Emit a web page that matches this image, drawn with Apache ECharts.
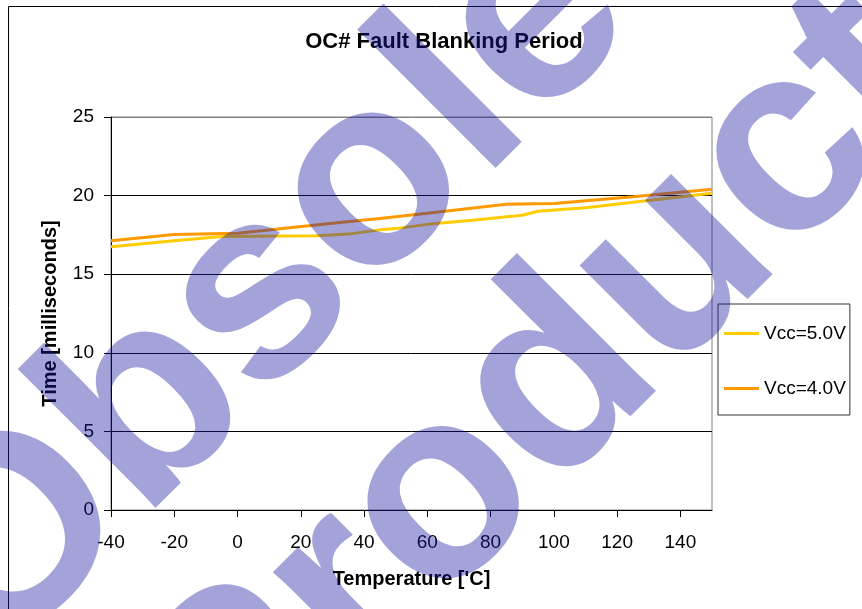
<!DOCTYPE html>
<html>
<head>
<meta charset="utf-8">
<script src="https://cdn.jsdelivr.net/npm/echarts@6/dist/echarts.min.js"></script>
<style>
  html, body { margin: 0; padding: 0; background: #fff; }
  #chart { width: 862px; height: 609px; }
</style>
</head>
<body>
<div id="chart"></div>
<script>
// values
const v5Temps = [-40, -20, -5, 25, 35, 45, 50, 60, 75, 90, 95, 110, 125, 150]
const v5Values = [16.75, 17.13, 17.4, 17.45, 17.55, 17.82, 17.9, 18.17, 18.45, 18.75, 19.0, 19.22, 19.58, 20.15]
const v4Temps = [-40, -20, 0, 15, 30, 45, 60, 85, 100, 125, 150]
const v4Values = [17.13, 17.52, 17.6, 17.92, 18.24, 18.55, 18.88, 19.45, 19.5, 19.93, 20.4]
const xTicks = [-40, -20, 0, 20, 40, 60, 80, 100, 120, 140]
const yTicks = [0, 5, 10, 15, 20, 25]
const seriesNames = ['Vcc=5.0V', 'Vcc=4.0V']

const font = '"Liberation Sans", Arial, sans-serif'
const pairs = (xs, ys) => xs.map((x, i) => [x, ys[i]])

const chart = echarts.init(document.getElementById('chart'))
chart.setOption({
  animation: false,
  textStyle: { fontFamily: font, color: '#000' },
  title: {
    text: 'OC# Fault Blanking Period',
    left: 439,
    top: 26,
    textAlign: 'center',
    textStyle: { fontSize: 22, fontWeight: 'bold', color: '#000' }
  },
  grid: {
    left: 111,
    top: 117,
    right: 150,
    bottom: 99,
    show: true,
    borderColor: '#808080',
    borderWidth: 1
  },
  legend: {
    orient: 'vertical',
    left: 718,
    top: 304,
    padding: [20, 4, 17, 6],
    itemGap: 36,
    itemWidth: 35,
    itemHeight: 3,
    itemTextGap: 5,
    icon: 'rect',
    borderColor: '#333',
    borderWidth: 1,
    textStyle: { fontSize: 19, color: '#000' },
    data: seriesNames
  },
  xAxis: {
    type: 'value',
    min: -40,
    max: 150,
    interval: 20,
    name: "Temperature ['C]",
    nameLocation: 'middle',
    nameGap: 59,
    nameTextStyle: { fontSize: 20, fontWeight: 'bold', color: '#000' },
    axisLine: { onZero: false, lineStyle: { color: '#000', width: 1 } },
    axisTick: { show: true, length: 7, inside: false, customValues: xTicks, lineStyle: { color: '#000' } },
    axisLabel: { fontSize: 19, color: '#000', margin: 23, customValues: xTicks },
    splitLine: { show: false }
  },
  yAxis: {
    type: 'value',
    min: 0,
    max: 25,
    interval: 5,
    name: 'Time [milliseconds]',
    nameLocation: 'middle',
    nameGap: 51,
    nameTextStyle: { fontSize: 20, fontWeight: 'bold', color: '#000' },
    axisLine: { show: true, onZero: false, lineStyle: { color: '#000', width: 1 } },
    axisTick: { show: true, length: 7, inside: false, lineStyle: { color: '#000' } },
    axisLabel: { fontSize: 19, color: '#000', margin: 17, padding: [3, 0, 0, 0], customValues: yTicks },
    splitLine: { show: true, lineStyle: { color: ['#000', '#000', '#000', '#000', '#000', '#808080'], width: 1 } }
  },
  series: [
    {
      name: seriesNames[0],
      type: 'line',
      data: pairs(v5Temps, v5Values),
      showSymbol: false,
      symbol: 'none',
      color: '#FFCC00',
      lineStyle: { width: 3, color: '#FFCC00' }
    },
    {
      name: seriesNames[1],
      type: 'line',
      data: pairs(v4Temps, v4Values),
      showSymbol: false,
      symbol: 'none',
      color: '#FF9900',
      lineStyle: { width: 3, color: '#FF9900' }
    }
  ],
  graphic: [
    {
      type: 'rect',
      silent: true,
      z: 0,
      shape: { x: 8.5, y: 6.5, width: 1000, height: 1000 },
      style: { fill: 'none', stroke: '#000', lineWidth: 1 }
    },
    {
      // "Obsolete Product" stamp over the whole chart
      type: 'group',
      x: 512,
      y: 370,
      rotation: Math.PI / 4,
      silent: true,
      z: 100,
      children: [
        {
          type: 'text',
          x: 0,
          y: -229,
          z: 100,
          style: {
            text: 'Obsolete',
            font: 'bold 270px ' + font,
            fill: 'rgba(25,25,162,0.4)',
            align: 'center',
            verticalAlign: 'middle'
          }
        },
        {
          type: 'text',
          x: 0,
          y: 42,
          z: 100,
          style: {
            text: 'Product',
            font: 'bold 270px ' + font,
            fill: 'rgba(25,25,162,0.4)',
            align: 'center',
            verticalAlign: 'middle'
          }
        }
      ]
    }
  ]
})
</script>
</body>
</html>
